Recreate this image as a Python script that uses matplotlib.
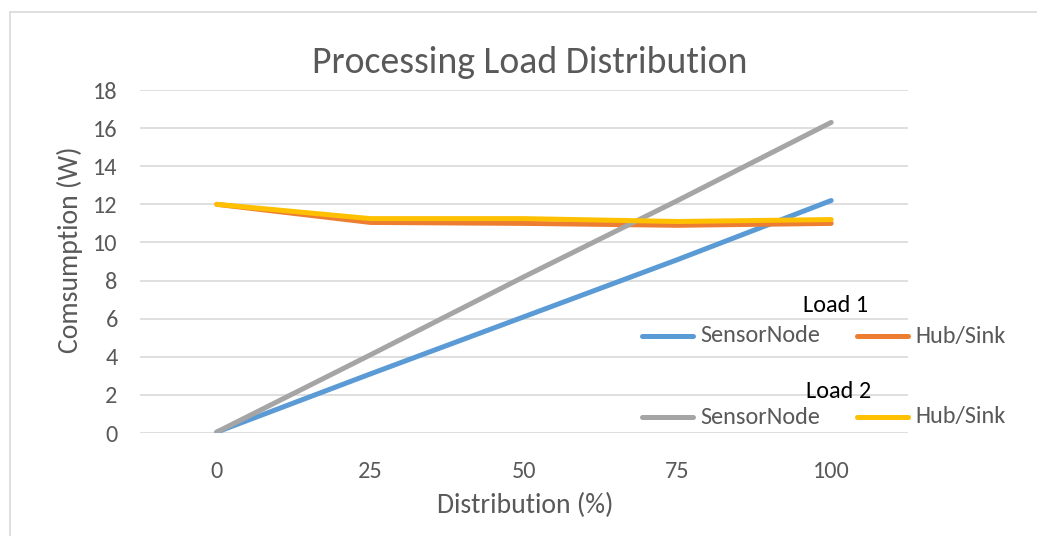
import matplotlib.pyplot as plt
from matplotlib.lines import Line2D
from matplotlib.patches import Rectangle

# distribution steps (%) on the category axis
distribution = ['0', '25', '50', '75', '100']

# consumption in watts
load1_sensor = [0.05, 3.1, 6.1, 9.1, 12.2]
load1_hub = [12.0, 11.05, 11.0, 10.9, 11.0]
load2_sensor = [0.05, 4.1, 8.2, 12.2, 16.3]
load2_hub = [12.0, 11.25, 11.25, 11.1, 11.2]

plt.rcParams['font.family'] = ['Carlito', 'Lato', 'DejaVu Sans']

W, H = 1037, 536
fig = plt.figure(figsize=(W / 100, H / 100), dpi=100)

# chart frame (only top and left edges fall inside the canvas)
fig.patches.append(Rectangle((10 / W, -0.1), 1.2, 1 - 12 / H + 0.1,
                             transform=fig.transFigure, fill=False,
                             edgecolor='#d9d9d9', linewidth=1.2))

ax = fig.add_axes([140 / W, 1 - 433 / H, 768 / W, 343 / H])

x = range(len(distribution))
lw = 3.6
blue, orange, gray, yellow = '#5b9bd5', '#ed7d31', '#a5a5a5', '#ffc000'
ax.plot(x, load1_sensor, color=blue, lw=lw, solid_capstyle='round', zorder=3)
ax.plot(x, load1_hub, color=orange, lw=lw, solid_capstyle='round', zorder=3)
ax.plot(x, load2_sensor, color=gray, lw=lw, solid_capstyle='round', zorder=3)
ax.plot(x, load2_hub, color=yellow, lw=lw, solid_capstyle='round', zorder=3)

ax.set_xlim(-0.5, 4.5)
ax.set_ylim(0, 18)
ax.set_yticks(range(0, 19, 2))
ax.set_xticks(list(x))
ax.set_xticklabels(distribution)
ax.grid(axis='y', color='#d9d9d9', lw=1.2)
ax.set_axisbelow(True)
for s in ax.spines.values():
    s.set_visible(False)
ax.tick_params(length=0, labelsize=17.5, labelcolor='#595959')
ax.tick_params(axis='y', pad=16)
ax.tick_params(axis='x', pad=20)

fig.text(530 / W, 1 - 62 / H, 'Processing Load Distribution', ha='center',
         va='center', fontsize=27.2, color='#595959')
fig.text(70 / W, 1 - 250 / H, 'Comsumption (W)', ha='center', va='center',
         rotation=90, fontsize=20, color='#595959')
fig.text(525 / W, 1 - 505 / H, 'Distribution (%)', ha='center', va='center',
         fontsize=20, color='#595959')

# two-row legend drawn by hand on the right
def legend_row(y, c1, c2):
    yf = 1 - y / H
    fig.lines.append(Line2D([642 / W, 693 / W], [yf, yf], color=c1, lw=lw,
                            solid_capstyle='round', transform=fig.transFigure))
    fig.lines.append(Line2D([857 / W, 908 / W], [yf, yf], color=c2, lw=lw,
                            solid_capstyle='round', transform=fig.transFigure))
    fig.text(700 / W, yf, 'SensorNode', va='center', fontsize=17.5, color='#595959')
    fig.text(915 / W, yf, 'Hub/Sink', va='center', fontsize=17.5, color='#595959')

fig.text(836 / W, 1 - 306 / H, 'Load 1', ha='center', va='center', fontsize=17.5)
legend_row(336, blue, orange)
fig.text(839 / W, 1 - 391 / H, 'Load 2', ha='center', va='center', fontsize=17.5)
legend_row(417, gray, yellow)

fig.savefig('out.png', dpi=100)
